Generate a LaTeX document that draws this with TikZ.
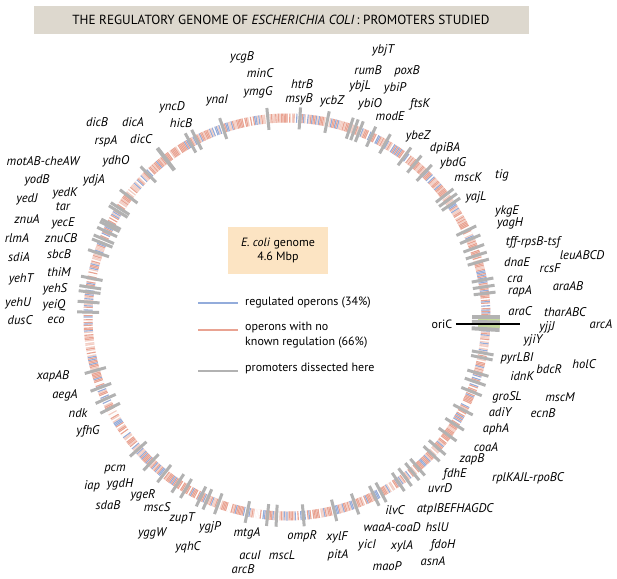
\documentclass[tikz,border=0pt]{standalone}
\usepackage{fontspec}
\setmainfont{PT Sans}
\definecolor{titlebg}{HTML}{DDD8CE}
\definecolor{genomebg}{HTML}{FCE4C3}
\definecolor{regblue}{HTML}{93ACDB}
\definecolor{nored}{HTML}{E9A392}
\definecolor{promgray}{HTML}{B2B2B2}
\definecolor{origreen}{HTML}{C4D99A}
\tikzset{
  gene/.style={font=\fontsize{12.6}{12.6}\selectfont\itshape, inner sep=0pt},
  legtext/.style={font=\fontsize{12}{15}\selectfont, anchor=west, align=left, inner sep=0pt},
  stripe/.style={line width=1.1pt},
  prom/.style={line width=3pt, promgray},
  legline/.style={line width=1.5pt},
}

\begin{document}
\begin{tikzpicture}[x=1pt,y=-1pt]
  \useasboundingbox (0,0) rectangle (617,578);
  \coordinate (C) at (287,317);
  % title bar
  \node[fill=titlebg, minimum height=28, minimum width=495, font=\fontsize{13.2}{13.2}\selectfont] (title) at (281,20)
    {THE REGULATORY GENOME OF \textit{ESCHERICHIA COLI}\,: PROMOTERS STUDIED};
  % genome ring
  \draw[line width=9pt, nored!18] (C) circle (199);
  \pgfmathsetseed{42}
  \foreach \i in {0,...,899}{
    \pgfmathrandominteger{\k}{1}{20}
    \pgfmathsetmacro{\a}{\i*0.4}
    \ifnum\k<9 \def\stripecol{nored}\else\ifnum\k<14 \def\stripecol{nored!55}\else\ifnum\k<18 \def\stripecol{regblue}\else\def\stripecol{white}\fi\fi\fi
    \draw[stripe, \stripecol] (C) ++(-\a:194.5) -- ++(-\a:9);
  }
  \fill[origreen] (478,315) rectangle (500,328);
  % promoters dissected
  \foreach \a in {95.5,86.3,108.7,117,119,134.2,78.4,71.6,70.2,68.7,65,60.5,53.8,50.2,46.4,37.6,36,34.5,25.7,23,20.2,18,16,10.7,8.7,6.8,
      349.6,348.2,343.6,341,338,332.2,327.4,323.8,319,316.6,311,309,306.4,304,298.2,296,290,283.7,274.7,267,264.4,258.5,249.8,246.4,244.4,
      239.5,236.7,231.9,226.9,221.6,207.3,204.3,200.7,195.6,142.7,148,147,152.2,153,154.7,157,158.2,161.3,168.8,171.4,172.8,175.7,178.6}
    \draw[prom] (C) ++(-\a:188) -- ++(-\a:22);
  \foreach \a in {127.5,0,358.5,356.5}
    \draw[prom, line width=4pt] (C) ++(-\a:185) -- ++(-\a:28);
  % origin of replication
  \node[font=\fontsize{12}{12}\selectfont] (ori) at (442,324) {oriC};
  \coordinate (oriend) at (520,324);
  \draw[line width=1.3pt] (ori.east) -- (oriend);
  % centre box and key
  \node[fill=genomebg, minimum width=100, minimum height=47, align=center, font=\fontsize{12}{14}\selectfont] (genome) at (278,250.5)
    {\textit{E. coli} genome\\4.6 Mbp};
  \node[legtext] (lreg) at (245,303) {regulated operons (34\%)};
  \node[legtext] (lno) at (245,335.5) {operons with no\\known regulation (66\%)};
  \node[legtext] (lprom) at (245,368) {promoters dissected here};
  \coordinate (kreg) at (198,303);
  \coordinate (kno) at (198,330);
  \coordinate (kprom) at (198,371);
  \draw[legline, regblue] (kreg) -- ++(40,0);
  \draw[legline, nored] (kno) -- ++(40,0);
  \draw[legline, promgray] (kprom) -- ++(40,0);
  % gene labels
  \foreach \x/\y/\t [count=\n] in {242/57/ycgB, 260/73/minC, 258/92/ymgG, 302/84/htrB, 299/99/msyB, 217/100/ynaI,
      172/107/yncD, 181/123/hicB, 97/122/dicB, 133/122/dicA, 106/141/rspA, 141/139/dicC, 43/161/motAB-cheAW,
      116/161/ydhO, 37/180/yodB, 94/180/ydjA, 27/199/yedJ, 65/193/yedK, 63/207/tar, 27/219/znuA, 63/223/yecE,
      17/238/rlmA, 61/238/znuCB, 19/257/sdiA, 59/254/sbcB, 59/272/thiM, 21/279/yehT, 55/289/yehS, 18/303/yehU,
      54/305/yeiQ, 20/320/dusC, 56/320/eco, 53/376/xapAB, 65/395/aegA, 78/413/ndk, 88/431/yfhG, 115/470/pcm,
      92/486/iap, 120/484/ygdH, 143/495/ygeR, 108/505/sdaB, 157/507/mscS, 182/518/zupT, 152/533/yggW,
      188/547/yqhC, 210/527/ygjP, 247/533/mtgA, 250/555/acuI, 243/569/arcB, 282/555/mscL, 302/536/ompR,
      337/537/xylF, 338/555/pitA, 395/510/ilvC, 392/527/waaA-coaD, 367/545/yicI, 402/546/xylA, 387/566/maoP,
      455/509/atpIBEFHAGDC, 437/527/hslU, 443/545/fdoH, 433/561/asnA, 440/488/uvrD, 455/474/fdhE, 472/459/zapB,
      486/447/coaA, 528/478/rplKAJL-rpoBC, 496/429/aphA, 500/412/adiY, 543/413/ecnB, 507/397/groSL,
      560/397/mscM, 522/376/idnK, 549/369/bdcR, 584/364/holC, 517/358/pyrLBI, 533/340/yjiY, 547/327/yjjJ,
      601/324/arcA, 520/311/araC, 565/312/tharABC, 520/291/rapA, 568/286/araAB, 515/279/cra, 550/268/rcsF,
      517/262/dnaE, 582/255/leuABCD, 533/242/tff-rpsB-tsf, 510/223/yagH, 507/211/ykgE, 476/197/yajL,
      502/175/tig, 468/177/mscK, 453/163/ybdG, 445/148/dpiBA, 418/136/ybeZ, 390/116/modE, 420/104/ftsK,
      370/104/ybiO, 332/101/ycbZ, 360/86/ybjL, 395/88/ybiP, 368/70/rumB, 407/71/poxB, 383/50/ybjT}
    \node[gene] (g\n) at (\x,\y) {\t};
\end{tikzpicture}
\end{document}
